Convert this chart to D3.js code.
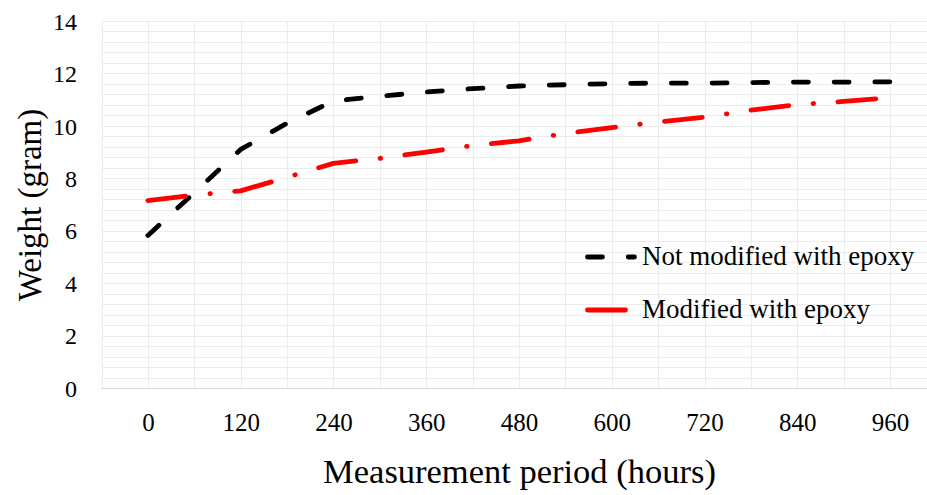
<!DOCTYPE html>
<html>
<head>
<meta charset="utf-8">
<script src="https://cdn.jsdelivr.net/npm/d3@7"></script>
<style>
  html, body { margin: 0; padding: 0; background: #fff; }
  svg { display: block; }
  text { font-family: "Liberation Serif", "Times New Roman", serif; fill: #000; }
</style>
</head>
<body>
<svg id="chart" width="927" height="495"></svg>
<script>
// ---- data ----
const hours = [0, 60, 120, 180, 240, 300, 360, 420, 480, 540, 600, 660, 720, 780, 840, 900, 960];
const notModified = [5.82, 7.45, 9.1, 10.1, 10.95, 11.13, 11.29, 11.42, 11.52, 11.57, 11.61, 11.63, 11.63, 11.65, 11.67, 11.67, 11.68];
const modified = [7.15, 7.36, 7.52, 8.04, 8.57, 8.76, 9.0, 9.25, 9.43, 9.71, 9.93, 10.15, 10.33, 10.6, 10.81, 10.93, 11.07];
const xTickLabels = [0, 120, 240, 360, 480, 600, 720, 840, 960];
const yTickLabels = [0, 2, 4, 6, 8, 10, 12, 14];
const gridHours = [-60, 0, 60, 120, 180, 240, 300, 360, 420, 480, 540, 600, 660, 720, 780, 840, 900, 960, 1020];
const seriesNames = ["Not modified with epoxy", "Modified with epoxy"];

// ---- layout ----
const svg = d3.select("#chart");
const x = d3.scaleLinear().domain([-60, 1020]).range([101.5, 936.5]);
const y = d3.scaleLinear().domain([0, 14]).range([388, 21]);

// gridlines
const minorY = d3.range(0, 14.0001, 0.4);
const grid = svg.append("g");
grid.selectAll("line.h").data(minorY).join("line")
  .attr("x1", x(-60)).attr("x2", x(1020))
  .attr("y1", d => Math.round(y(d)) + 0.5).attr("y2", d => Math.round(y(d)) + 0.5)
  .attr("stroke", "#ececec").attr("stroke-width", 1);
grid.selectAll("line.v").data(gridHours).join("line")
  .attr("x1", d => Math.round(x(d)) + 0.5).attr("x2", d => Math.round(x(d)) + 0.5)
  .attr("y1", y(14)).attr("y2", y(0))
  .attr("stroke", "#ececec").attr("stroke-width", 1);

// x axis line
svg.append("line")
  .attr("x1", x(-60)).attr("x2", x(1020))
  .attr("y1", Math.round(y(0)) + 0.5).attr("y2", Math.round(y(0)) + 0.5)
  .attr("stroke", "#d9d9d9").attr("stroke-width", 1.2);

// axes via d3 (labels only)
const xAxis = d3.axisBottom(x).tickValues(xTickLabels).tickSize(0).tickPadding(0).tickFormat(d3.format("d"));
const gx = svg.append("g").attr("transform", `translate(0,${y(0)})`).call(xAxis);
gx.select(".domain").remove();
gx.selectAll("text").attr("dy", null).attr("y", 43)
  .style("font-family", '"Liberation Serif", serif').style("font-size", "25px").attr("fill", "#000");

const yAxis = d3.axisLeft(y).tickValues(yTickLabels).tickSize(0).tickPadding(0).tickFormat(d3.format("d"));
const gy = svg.append("g").attr("transform", `translate(77,0)`).call(yAxis);
gy.select(".domain").remove();
gy.selectAll("text").attr("dy", "0.34em")
  .style("font-family", '"Liberation Serif", serif').style("font-size", "24px").attr("fill", "#000");

// lines
const line = d3.line().x((d, i) => x(hours[i])).y(d => y(d));
svg.append("path").datum(notModified)
  .attr("d", line).attr("fill", "none")
  .attr("stroke", "#000").attr("stroke-width", 4.8)
  .attr("stroke-linecap", "round").attr("stroke-linejoin", "round")
  .attr("stroke-dasharray", "15,25.7");
svg.append("path").datum(modified)
  .attr("d", line).attr("fill", "none")
  .attr("stroke", "#ff0000").attr("stroke-width", 4.8)
  .attr("stroke-linecap", "round").attr("stroke-linejoin", "round")
  .attr("stroke-dasharray", "38,24.4,0.5,24.4");

// legend
const leg = svg.append("g");
leg.append("path").attr("d", "M587.5,257 L634.5,257")
  .attr("stroke", "#000").attr("stroke-width", 4.8).attr("stroke-linecap", "round")
  .attr("stroke-dasharray", "15,25.7");
leg.append("text").attr("x", 642).attr("y", 265).style("font-size", "27px").text(seriesNames[0]);
leg.append("path").attr("d", "M587.5,310 L634.5,310")
  .attr("stroke", "#ff0000").attr("stroke-width", 4.8).attr("stroke-linecap", "round")
  .attr("stroke-dasharray", "38,24.4,0.5,24.4");
leg.append("text").attr("x", 642).attr("y", 318).style("font-size", "27px").text(seriesNames[1]);

// axis titles
svg.append("text").attr("x", 519.5).attr("y", 483).attr("text-anchor", "middle")
  .style("font-size", "34.5px").text("Measurement period (hours)");
svg.append("text").attr("transform", "translate(41,205) rotate(-90)").attr("text-anchor", "middle")
  .style("font-size", "33px").text("Weight (gram)");
</script>
</body>
</html>
